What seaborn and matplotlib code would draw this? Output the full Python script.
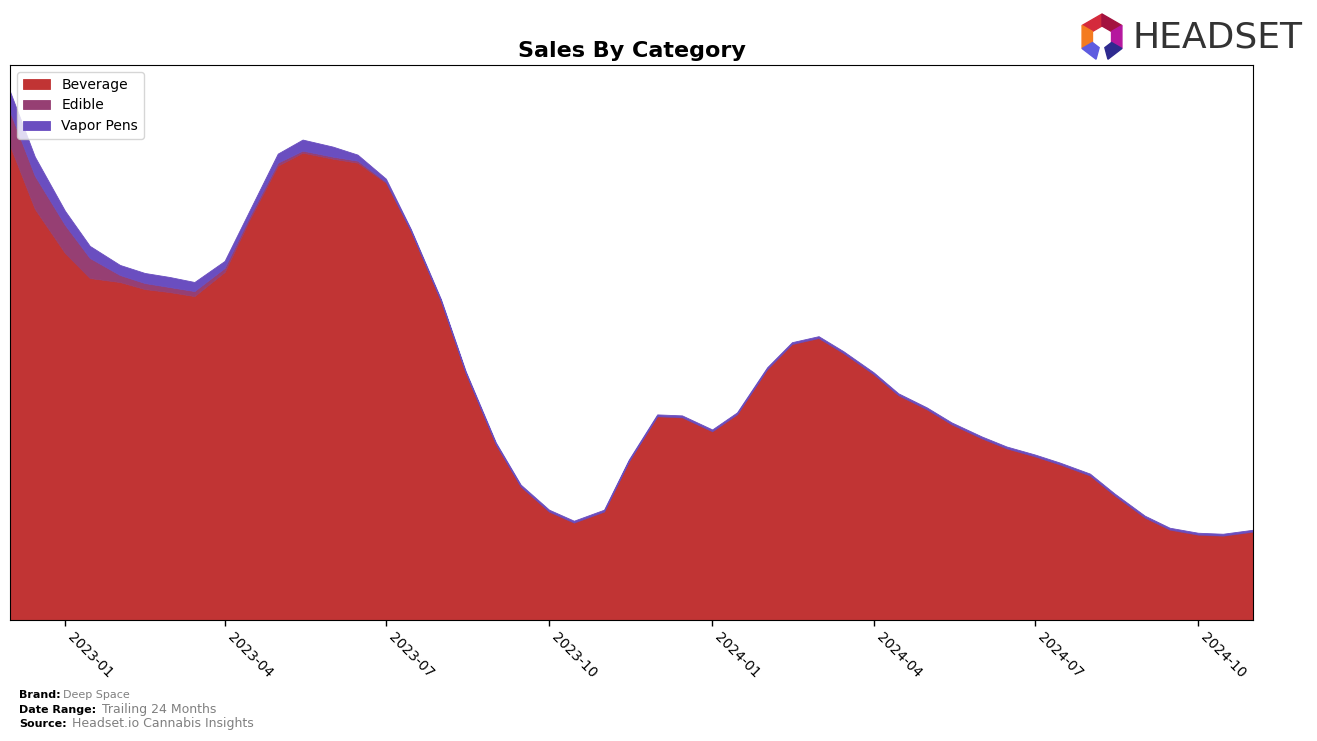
import numpy as np
import pandas as pd
import matplotlib
matplotlib.use('Agg')
import matplotlib.pyplot as plt
import matplotlib.dates as mdates
from matplotlib.patches import Polygon
import seaborn as sns

# semi-monthly readings, Dec 2022 -> Nov 2024
dates = pd.date_range('2022-12-01', '2024-11-01', freq='SMS')

beverage = [473, 410, 366, 341, 337, 330, 327, 323, 347, 399, 453, 466, 460, 456, 436,
            388, 318, 246, 175, 133, 108, 97, 108, 158, 203, 202, 188, 205, 250, 275,
            281, 266, 245, 224, 210, 195, 181, 171, 163, 155, 144, 124, 102, 90, 85, 84, 88]
edible = [34, 33, 28, 20, 7, 6, 5, 5, 4, 3, 3, 2, 2, 2, 1] + [0.5] * 32
vapor_pens = [20, 19, 14, 12, 10, 10, 10, 9, 7, 6, 9, 11, 10, 6, 3] + [1.5] * 32

categories = ['Beverage', 'Edible', 'Vapor Pens']
colors = ['#C13434', '#963F73', '#6A4EC0']

sns.set_style('white', {'axes.edgecolor': 'black', 'xtick.bottom': True,
                        'xtick.color': 'black', 'axes.linewidth': 1.0,
                        'text.color': 'black', 'axes.labelcolor': 'black'})
plt.rcParams['font.family'] = ['DejaVu Sans']

fig = plt.figure(figsize=(13.17, 7.41), dpi=100)
ax = fig.add_axes([10 / 1317, 1 - 620 / 741, 1243 / 1317, 555 / 741])

ax.stackplot(dates, beverage, edible, vapor_pens, labels=categories,
             colors=colors, linewidth=0.6, edgecolor='face')

ax.set_xlim(dates[0], dates[-1])
ax.set_ylim(bottom=0)
ax.set_yticks([])
ax.xaxis.set_major_locator(mdates.MonthLocator(bymonth=[1, 4, 7, 10]))
ax.xaxis.set_major_formatter(mdates.DateFormatter('%Y-%m'))
ax.tick_params(axis='x', length=4, width=1, labelsize=10)
for lbl in ax.get_xticklabels():
    lbl.set_rotation(-45)
    lbl.set_ha('left')

ax.set_title('Sales By Category', fontsize=16, fontweight='bold', pad=6)
ax.legend(loc='upper left', fontsize=10, frameon=True)

# footer
fig.text(19 / 1317, 1 - 695 / 741, 'Brand:', fontsize=8, fontweight='bold', va='center')
fig.text(63 / 1317, 1 - 695 / 741, 'Deep Space', fontsize=8, color='gray', va='center')
fig.text(19 / 1317, 1 - 710 / 741, 'Date Range:', fontsize=8, fontweight='bold', va='center')
fig.text(102 / 1317, 1 - 710 / 741, 'Trailing 24 Months', fontsize=9, color='gray', va='center')
fig.text(19 / 1317, 1 - 724 / 741, 'Source:', fontsize=8, fontweight='bold', va='center')
fig.text(72 / 1317, 1 - 724 / 741, 'Headset.io Cannabis Insights', fontsize=9, color='gray', va='center')

# logo
fig.text(1133 / 1317, 1 - 38 / 741, 'HEADSET', fontsize=26, color='#333333', va='center')
cx, cy, r_out, r_in = 1102, 37, 23, 11
def ring_seg(a0, a1, color):
    pts = []
    for a in (a0, a1):
        t = np.deg2rad(a)
        pts.append((cx + r_out * np.cos(t), cy - r_out * np.sin(t)))
    for a in (a1, a0):
        t = np.deg2rad(a)
        pts.append((cx + r_in * np.cos(t), cy - r_in * np.sin(t)))
    pts = [(x / 1317, 1 - y / 741) for x, y in pts]
    fig.patches.append(Polygon(pts, closed=True, color=color, transform=fig.transFigure))
ring_seg(90, 150, '#D42A3C')
ring_seg(30, 90, '#A3123F')
ring_seg(150, 210, '#F47B20')
ring_seg(330, 390, '#B5179E')
ring_seg(210, 255, '#5E5CE0')
ring_seg(285, 330, '#2E2A8F')

fig.savefig('out.png', dpi=100)
